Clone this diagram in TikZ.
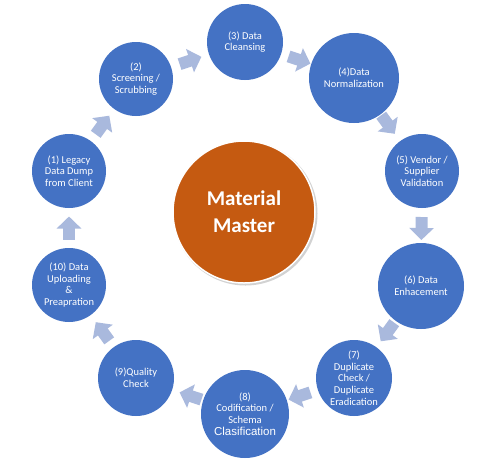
\documentclass[tikz,border=0pt]{standalone}
\usepackage{fontspec}
\setmainfont{Carlito}
\newfontfamily\arialf{Liberation Sans}
\usetikzlibrary{calc,arrows.meta}
\definecolor{stepblue}{HTML}{4472C4}
\definecolor{coreorange}{HTML}{C55A11}
\definecolor{arrowc}{HTML}{A9B9DD}
\tikzset{
  stage/.style={circle, fill=stepblue, text=white, align=center, inner sep=0pt,
    font=\fontsize{10.5}{11.7}\selectfont},
  flow/.style={draw=arrowc, line width=12pt, -{Triangle[width=24pt,length=12pt]}},
}
\newcommand\cyc[2]{\draw[flow] ($(#1)!0.5!(#2)!-11.5pt!(#2)$) -- ($(#1)!0.5!(#2)!11.5pt!(#2)$);}
\begin{document}
\begin{tikzpicture}[x=1pt,y=-1pt]
\useasboundingbox (0,0) rectangle (503,459);
\fill[white] (0,0) rectangle (503,459);
% centre
\fill[gray!35] (245.5,213.5) circle (72);
\node[circle, fill=coreorange, draw=white, line width=1.5pt, minimum size=142pt, inner sep=0pt,
  text=white, align=center, font=\fontsize{21}{27}\selectfont\bfseries] (core) at (244,212) {Material\\Master};
% stages
\node[stage, minimum size=74pt] (c1) at (69,171) {(1) Legacy\\Data Dump\\from Client};
\node[stage, minimum size=74pt] (c2) at (136,79) {(2)\\Screening /\\Scrubbing};
\node[stage, minimum size=76pt] (c3) at (245,42) {(3) Data\\Cleansing};
\node[stage, minimum size=90pt] (c4) at (354,78) {(4)Data\\Normalization};
\node[stage, minimum size=74pt] (c5) at (422,171) {(5) Vendor /\\Supplier\\Validation};
\node[stage, minimum size=86pt] (c6) at (421,286) {(6) Data\\Enhacement};
\node[stage, minimum size=76pt] (c7) at (354,378) {(7)\\Duplicate\\Check /\\Duplicate\\Eradication};
\node[stage, minimum size=88pt] (c8) at (245,414) {(8)\\Codification /\\Schema\\{\arialf\fontsize{11.5}{13}\selectfont Clasification}};
\node[stage, minimum size=76pt] (c9) at (136,378) {(9)Quality\\Check};
\node[stage, minimum size=74pt] (c10) at (69,285) {(10) Data\\Uploading\\\&\\Preapration};
% cycle arrows
\cyc{c1}{c2}
\cyc{c2}{c3}
\cyc{c3}{c4}
\cyc{c4}{c5}
\cyc{c5}{c6}
\cyc{c6}{c7}
\cyc{c7}{c8}
\cyc{c8}{c9}
\cyc{c9}{c10}
\cyc{c10}{c1}
\end{tikzpicture}
\end{document}
